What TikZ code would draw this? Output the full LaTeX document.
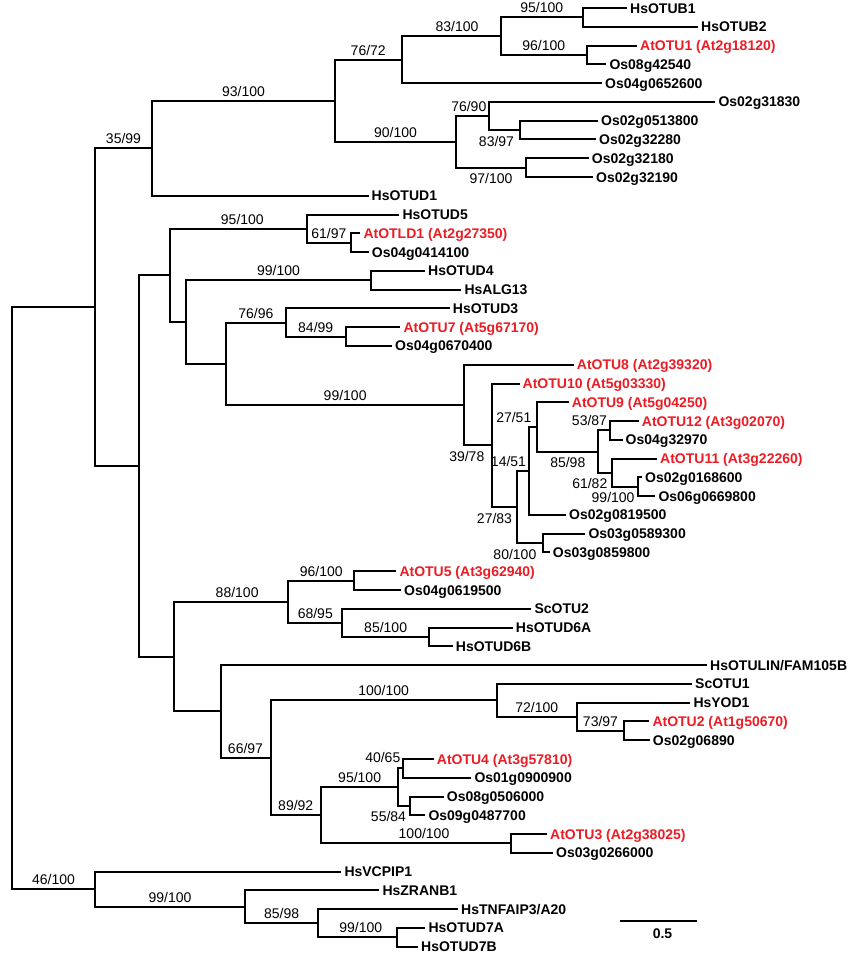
\documentclass[tikz,border=0pt]{standalone}
\usepackage{fontspec}
\setmainfont{Liberation Sans}
\definecolor{atred}{RGB}{236,28,36}
\tikzstyle{branch} = [draw, line width=2pt, line cap=rect]
\tikzstyle{leaf} = [anchor=west, inner xsep=4pt, inner ysep=0pt, text height=10pt, text depth=0pt, font=\fontsize{14}{16}\selectfont\bfseries]
\tikzstyle{atleaf} = [leaf, text=atred]
\tikzstyle{boot} = [inner xsep=0pt, inner ysep=3.5pt, text height=10pt, text depth=0pt, font=\fontsize{14}{16}\selectfont]
\tikzstyle{bootb} = [boot, below, inner ysep=5pt]
\tikzstyle{bootr} = [boot, pos=1, anchor=south east, inner xsep=2pt]
\tikzstyle{bootrb} = [boot, pos=1, anchor=north east, inner xsep=2pt, inner ysep=5pt]
\tikzstyle{barlbl} = [inner sep=0pt, text height=10pt, text depth=0pt, font=\fontsize{14}{16}\selectfont\bfseries]
\begin{document}
\begin{tikzpicture}[x=1pt, y=-1pt]
\useasboundingbox (0,0) rectangle (850,959);

\node [leaf] (otub1) at (626,8.0) {HsOTUB1};
\node [leaf] (otub2) at (697,26.8) {HsOTUB2};
\node [atleaf] (atotu1) at (636,45.5) {AtOTU1 (At2g18120)};
\node [leaf] (os08g42540) at (605.3,64.3) {Os08g42540};
\node [leaf] (os04g0652600) at (601,83.1) {Os04g0652600};
\node [leaf] (os02g31830) at (714.3,101.9) {Os02g31830};
\node [leaf] (os02g0513800) at (597,120.6) {Os02g0513800};
\node [leaf] (os02g32280) at (595,139.4) {Os02g32280};
\node [leaf] (os02g32180) at (587.7,158.2) {Os02g32180};
\node [leaf] (os02g32190) at (592,177.0) {Os02g32190};
\node [leaf] (otud1) at (367.5,195.7) {HsOTUD1};
\node [leaf] (otud5) at (398.3,214.5) {HsOTUD5};
\node [atleaf] (atotld1) at (359.3,233.3) {AtOTLD1 (At2g27350)};
\node [leaf] (os04g0414100) at (367.7,252.1) {Os04g0414100};
\node [leaf] (otud4) at (424,270.8) {HsOTUD4};
\node [leaf] (alg13) at (460.3,289.6) {HsALG13};
\node [leaf] (otud3) at (448.7,308.4) {HsOTUD3};
\node [atleaf] (atotu7) at (399.3,327.2) {AtOTU7 (At5g67170)};
\node [leaf] (os04g0670400) at (391,345.9) {Os04g0670400};
\node [atleaf] (atotu8) at (572.7,364.7) {AtOTU8 (At2g39320)};
\node [atleaf] (atotu10) at (518.5,383.5) {AtOTU10 (At5g03330)};
\node [atleaf] (atotu9) at (567.7,402.3) {AtOTU9 (At5g04250)};
\node [atleaf] (atotu12) at (637.7,421.0) {AtOTU12 (At3g02070)};
\node [leaf] (os04g32970) at (621.5,439.8) {Os04g32970};
\node [atleaf] (atotu11) at (656,458.6) {AtOTU11 (At3g22260)};
\node [leaf] (os02g0168600) at (641,477.4) {Os02g0168600};
\node [leaf] (os06g0669800) at (654.3,496.1) {Os06g0669800};
\node [leaf] (os02g0819500) at (565,514.9) {Os02g0819500};
\node [leaf] (os03g0589300) at (584.3,533.7) {Os03g0589300};
\node [leaf] (os03g0859800) at (548.7,552.4) {Os03g0859800};
\node [atleaf] (atotu5) at (395.3,571.2) {AtOTU5 (At3g62940)};
\node [leaf] (os04g0619500) at (400,590.0) {Os04g0619500};
\node [leaf] (scotu2) at (530.3,608.8) {ScOTU2};
\node [leaf] (otud6a) at (511.7,627.5) {HsOTUD6A};
\node [leaf] (otud6b) at (451.7,646.3) {HsOTUD6B};
\node [leaf] (otulin) at (706,665.1) {HsOTULIN/FAM105B};
\node [leaf] (scotu1) at (691,683.9) {ScOTU1};
\node [leaf] (yod1) at (689.3,702.6) {HsYOD1};
\node [atleaf] (atotu2) at (648.3,721.4) {AtOTU2 (At1g50670)};
\node [leaf] (os02g06890) at (648.7,740.2) {Os02g06890};
\node [atleaf] (atotu4) at (432.7,759.0) {AtOTU4 (At3g57810)};
\node [leaf] (os01g0900900) at (470.3,777.7) {Os01g0900900};
\node [leaf] (os08g0506000) at (442.7,796.5) {Os08g0506000};
\node [leaf] (os09g0487700) at (424.3,815.3) {Os09g0487700};
\node [atleaf] (atotu3) at (546,834.1) {AtOTU3 (At2g38025)};
\node [leaf] (os03g0266000) at (552,852.8) {Os03g0266000};
\node [leaf] (vcpip1) at (340.3,871.6) {HsVCPIP1};
\node [leaf] (zranb1) at (378.3,890.4) {HsZRANB1};
\node [leaf] (tnfaip3) at (457,909.2) {HsTNFAIP3/A20};
\node [leaf] (otud7a) at (424.3,927.9) {HsOTUD7A};
\node [leaf] (otud7b) at (417,946.7) {HsOTUD7B};

\coordinate (nH) at (583,17.4);
\coordinate (nI) at (587,54.9);
\coordinate (nG) at (500.5,36.15);
\coordinate (nE) at (401.5,59.6);
\coordinate (nL) at (520,130);
\coordinate (nJ) at (489.3,115.95);
\coordinate (nK) at (526,167.6);
\coordinate (nF) at (456,141.8);
\coordinate (nD) at (335,100.7);
\coordinate (nB) at (152,148.2);
\coordinate (nQ) at (351,242.7);
\coordinate (nO) at (306.7,228.6);
\coordinate (nS) at (371,280.2);
\coordinate (nW) at (345.7,336.55);
\coordinate (nU) at (285.7,322.5);
\coordinate (nZ3) at (610,430.4);
\coordinate (nZ5) at (637.5,486.75);
\coordinate (nZ4) at (612.3,472.7);
\coordinate (nZ2) at (598.3,451.55);
\coordinate (nZ1) at (537.3,426.9);
\coordinate (nY1) at (529,470.9);
\coordinate (nY2) at (543.3,543.05);
\coordinate (nY) at (517,507.0);
\coordinate (nX) at (492.3,445.25);
\coordinate (nV) at (464.3,405.0);
\coordinate (nT) at (226,363.75);
\coordinate (nP) at (186,322.0);
\coordinate (nM) at (170,275.3);
\coordinate (nN2) at (354.3,580.6);
\coordinate (nN4) at (429,636.9);
\coordinate (nN3) at (342.3,622.85);
\coordinate (nN1) at (288.3,601.7);
\coordinate (nN9) at (624.3,730.8);
\coordinate (nN8) at (576.7,716.7);
\coordinate (nN7) at (496.7,700.3);
\coordinate (nN12) at (403.3,768.35);
\coordinate (nN13) at (410,805.9);
\coordinate (nN11) at (398.3,787.1);
\coordinate (nN14) at (511,843.45);
\coordinate (nN10) at (321,815.3);
\coordinate (nN6) at (270.5,757.8);
\coordinate (nN5) at (220.5,711.45);
\coordinate (nN) at (174,656.6);
\coordinate (nC) at (139.3,465.95);
\coordinate (nA) at (95,307.1);
\coordinate (nD7c) at (397.3,937.3);
\coordinate (nD7b) at (318.3,923.25);
\coordinate (nD7a) at (245,906.8);
\coordinate (nD7) at (95,889.2);
\coordinate (nR) at (12,598.15);

\path [branch] (nR |- nA) -- (nR |- nD7);
\path [branch] (nR |- nA) -- (nA);
\path [branch] (nR |- nD7) -- node [boot, above] (b_root) {46/100} (nD7);

\path [branch] (nA |- nB) -- (nA |- nC);
\path [branch] (nA |- nB) -- node [boot, above] (b_b) {35/99} (nB);
\path [branch] (nA |- nC) -- (nC);

\path [branch] (nB |- nD) -- (nB |- otud1);
\path [branch] (nB |- nD) -- node [boot, above] (b_d) {93/100} (nD);
\path [branch] (nB |- otud1) -- (otud1);

\path [branch] (nD |- nE) -- (nD |- nF);
\path [branch] (nD |- nE) -- node [boot, above] (b_e) {76/72} (nE);
\path [branch] (nD |- nF) -- node [boot, above] (b_f) {90/100} (nF);

\path [branch] (nE |- nG) -- (nE |- os04g0652600);
\path [branch] (nE |- nG) -- node [boot, above, xshift=6pt] (b_g) {83/100} (nG);
\path [branch] (nE |- os04g0652600) -- (os04g0652600);

\path [branch] (nG |- nH) -- (nG |- nI);
\path [branch] (nG |- nH) -- node [boot, above] (b_h) {95/100} (nH);
\path [branch] (nG |- nI) -- node [boot, above] (b_i) {96/100} (nI);

\path [branch] (nH |- otub1) -- (nH |- otub2);
\path [branch] (nH |- otub1) -- (otub1);
\path [branch] (nH |- otub2) -- (otub2);

\path [branch] (nI |- atotu1) -- (nI |- os08g42540);
\path [branch] (nI |- atotu1) -- (atotu1);
\path [branch] (nI |- os08g42540) -- (os08g42540);

\path [branch] (nF |- nJ) -- (nF |- nK);
\path [branch] (nF |- nJ) -- node [bootr] (b_j) {76/90} (nJ);
\path [branch] (nF |- nK) -- node [bootb] (b_k) {97/100} (nK);

\path [branch] (nJ |- os02g31830) -- (nJ |- nL);
\path [branch] (nJ |- os02g31830) -- (os02g31830);
\path [branch] (nJ |- nL) -- node [bootrb, xshift=-3pt] (b_l) {83/97} (nL);

\path [branch] (nL |- os02g0513800) -- (nL |- os02g32280);
\path [branch] (nL |- os02g0513800) -- (os02g0513800);
\path [branch] (nL |- os02g32280) -- (os02g32280);

\path [branch] (nK |- os02g32180) -- (nK |- os02g32190);
\path [branch] (nK |- os02g32180) -- (os02g32180);
\path [branch] (nK |- os02g32190) -- (os02g32190);


\path [branch] (nC |- nM) -- (nC |- nN);
\path [branch] (nC |- nM) -- (nM);
\path [branch] (nC |- nN) -- (nN);

\path [branch] (nM |- nO) -- (nM |- nP);
\path [branch] (nM |- nO) -- node [boot, above, xshift=4pt] (b_o) {95/100} (nO);
\path [branch] (nM |- nP) -- (nP);

\path [branch] (nO |- otud5) -- (nO |- nQ);
\path [branch] (nO |- otud5) -- (otud5);
\path [branch] (nO |- nQ) -- node [boot, above] (b_q) {61/97} (nQ);

\path [branch] (nQ |- atotld1) -- (nQ |- os04g0414100);
\path [branch] (nQ |- atotld1) -- (atotld1);
\path [branch] (nQ |- os04g0414100) -- (os04g0414100);

\path [branch] (nP |- nS) -- (nP |- nT);
\path [branch] (nP |- nS) -- node [boot, above] (b_s) {99/100} (nS);
\path [branch] (nP |- nT) -- (nT);

\path [branch] (nS |- otud4) -- (nS |- alg13);
\path [branch] (nS |- otud4) -- (otud4);
\path [branch] (nS |- alg13) -- (alg13);

\path [branch] (nT |- nU) -- (nT |- nV);
\path [branch] (nT |- nU) -- node [boot, above] (b_u) {76/96} (nU);
\path [branch] (nT |- nV) -- node [boot, above] (b_v) {99/100} (nV);

\path [branch] (nU |- otud3) -- (nU |- nW);
\path [branch] (nU |- otud3) -- (otud3);
\path [branch] (nU |- nW) -- node [boot, above] (b_w) {84/99} (nW);

\path [branch] (nW |- atotu7) -- (nW |- os04g0670400);
\path [branch] (nW |- atotu7) -- (atotu7);
\path [branch] (nW |- os04g0670400) -- (os04g0670400);

\path [branch] (nV |- atotu8) -- (nV |- nX);
\path [branch] (nV |- atotu8) -- (atotu8);
\path [branch] (nV |- nX) -- node [bootrb, xshift=-5pt] (b_x) {39/78} (nX);

\path [branch] (nX |- atotu10) -- (nX |- nY);
\path [branch] (nX |- atotu10) -- (atotu10);
\path [branch] (nX |- nY) -- node [bootrb, xshift=-2pt] (b_y) {27/83} (nY);

\path [branch] (nY |- nY1) -- (nY |- nY2);
\path [branch] (nY |- nY1) -- node [bootr] (b_y1) {14/51} (nY1);
\path [branch] (nY |- nY2) -- node [bootrb, xshift=-4pt] (b_y2) {80/100} (nY2);

\path [branch] (nY1 |- nZ1) -- (nY1 |- os02g0819500);
\path [branch] (nY1 |- nZ1) -- node [bootr, xshift=-3pt] (b_z1) {27/51} (nZ1);
\path [branch] (nY1 |- os02g0819500) -- (os02g0819500);

\path [branch] (nZ1 |- atotu9) -- (nZ1 |- nZ2);
\path [branch] (nZ1 |- atotu9) -- (atotu9);
\path [branch] (nZ1 |- nZ2) -- node [bootb] (b_z2) {85/98} (nZ2);

\path [branch] (nZ2 |- nZ3) -- (nZ2 |- nZ4);
\path [branch] (nZ2 |- nZ3) -- node [bootr] (b_z3) {53/87} (nZ3);
\path [branch] (nZ2 |- nZ4) -- node [bootrb, xshift=-2pt] (b_z4) {61/82} (nZ4);

\path [branch] (nZ3 |- atotu12) -- (nZ3 |- os04g32970);
\path [branch] (nZ3 |- atotu12) -- (atotu12);
\path [branch] (nZ3 |- os04g32970) -- (os04g32970);

\path [branch] (nZ4 |- atotu11) -- (nZ4 |- nZ5);
\path [branch] (nZ4 |- atotu11) -- (atotu11);
\path [branch] (nZ4 |- nZ5) -- node [bootrb] (b_z5) {99/100} (nZ5);

\path [branch] (nZ5 |- os02g0168600) -- (nZ5 |- os06g0669800);
\path [branch] (nZ5 |- os02g0168600) -- (os02g0168600);
\path [branch] (nZ5 |- os06g0669800) -- (os06g0669800);

\path [branch] (nY2 |- os03g0589300) -- (nY2 |- os03g0859800);
\path [branch] (nY2 |- os03g0589300) -- (os03g0589300);
\path [branch] (nY2 |- os03g0859800) -- (os03g0859800);


\path [branch] (nN |- nN1) -- (nN |- nN5);
\path [branch] (nN |- nN1) -- node [boot, above, xshift=6pt] (b_n1) {88/100} (nN1);
\path [branch] (nN |- nN5) -- (nN5);

\path [branch] (nN1 |- nN2) -- (nN1 |- nN3);
\path [branch] (nN1 |- nN2) -- node [boot, above] (b_n2) {96/100} (nN2);
\path [branch] (nN1 |- nN3) -- node [boot, above] (b_n3) {68/95} (nN3);

\path [branch] (nN2 |- atotu5) -- (nN2 |- os04g0619500);
\path [branch] (nN2 |- atotu5) -- (atotu5);
\path [branch] (nN2 |- os04g0619500) -- (os04g0619500);

\path [branch] (nN3 |- scotu2) -- (nN3 |- nN4);
\path [branch] (nN3 |- scotu2) -- (scotu2);
\path [branch] (nN3 |- nN4) -- node [boot, above] (b_n4) {85/100} (nN4);

\path [branch] (nN4 |- otud6a) -- (nN4 |- otud6b);
\path [branch] (nN4 |- otud6a) -- (otud6a);
\path [branch] (nN4 |- otud6b) -- (otud6b);

\path [branch] (nN5 |- otulin) -- (nN5 |- nN6);
\path [branch] (nN5 |- otulin) -- (otulin);
\path [branch] (nN5 |- nN6) -- node [boot, above] (b_n6) {66/97} (nN6);

\path [branch] (nN6 |- nN7) -- (nN6 |- nN10);
\path [branch] (nN6 |- nN7) -- node [boot, above] (b_n7) {100/100} (nN7);
\path [branch] (nN6 |- nN10) -- node [boot, above] (b_n10) {89/92} (nN10);

\path [branch] (nN7 |- scotu1) -- (nN7 |- nN8);
\path [branch] (nN7 |- scotu1) -- (scotu1);
\path [branch] (nN7 |- nN8) -- node [boot, above] (b_n8) {72/100} (nN8);

\path [branch] (nN8 |- yod1) -- (nN8 |- nN9);
\path [branch] (nN8 |- yod1) -- (yod1);
\path [branch] (nN8 |- nN9) -- node [boot, above] (b_n9) {73/97} (nN9);

\path [branch] (nN9 |- atotu2) -- (nN9 |- os02g06890);
\path [branch] (nN9 |- atotu2) -- (atotu2);
\path [branch] (nN9 |- os02g06890) -- (os02g06890);

\path [branch] (nN10 |- nN11) -- (nN10 |- nN14);
\path [branch] (nN10 |- nN11) -- node [boot, above] (b_n11) {95/100} (nN11);
\path [branch] (nN10 |- nN14) -- node [boot, above, xshift=8pt] (b_n14) {100/100} (nN14);

\path [branch] (nN11 |- nN12) -- (nN11 |- nN13);
\path [branch] (nN11 |- nN12) -- node [bootr, inner ysep=5pt] (b_n12) {40/65} (nN12);
\path [branch] (nN11 |- nN13) -- node [bootrb, xshift=-1pt] (b_n13) {55/84} (nN13);

\path [branch] (nN12 |- atotu4) -- (nN12 |- os01g0900900);
\path [branch] (nN12 |- atotu4) -- (atotu4);
\path [branch] (nN12 |- os01g0900900) -- (os01g0900900);

\path [branch] (nN13 |- os08g0506000) -- (nN13 |- os09g0487700);
\path [branch] (nN13 |- os08g0506000) -- (os08g0506000);
\path [branch] (nN13 |- os09g0487700) -- (os09g0487700);

\path [branch] (nN14 |- atotu3) -- (nN14 |- os03g0266000);
\path [branch] (nN14 |- atotu3) -- (atotu3);
\path [branch] (nN14 |- os03g0266000) -- (os03g0266000);


\path [branch] (nD7 |- vcpip1) -- (nD7 |- nD7a);
\path [branch] (nD7 |- vcpip1) -- (vcpip1);
\path [branch] (nD7 |- nD7a) -- node [boot, above] (b_d7a) {99/100} (nD7a);

\path [branch] (nD7a |- zranb1) -- (nD7a |- nD7b);
\path [branch] (nD7a |- zranb1) -- (zranb1);
\path [branch] (nD7a |- nD7b) -- node [boot, above] (b_d7b) {85/98} (nD7b);

\path [branch] (nD7b |- tnfaip3) -- (nD7b |- nD7c);
\path [branch] (nD7b |- tnfaip3) -- (tnfaip3);
\path [branch] (nD7b |- nD7c) -- node [boot, above, xshift=3pt] (b_d7c) {99/100} (nD7c);

\path [branch] (nD7c |- otud7a) -- (nD7c |- otud7b);
\path [branch] (nD7c |- otud7a) -- (otud7a);
\path [branch] (nD7c |- otud7b) -- (otud7b);

\coordinate (bar0) at (621,921);
\coordinate (bar1) at (696,921);
\path [branch] (bar0) -- node [barlbl, below=6pt, xshift=4pt] (bar_lbl) {0.5} (bar1);

\end{tikzpicture}
\end{document}
